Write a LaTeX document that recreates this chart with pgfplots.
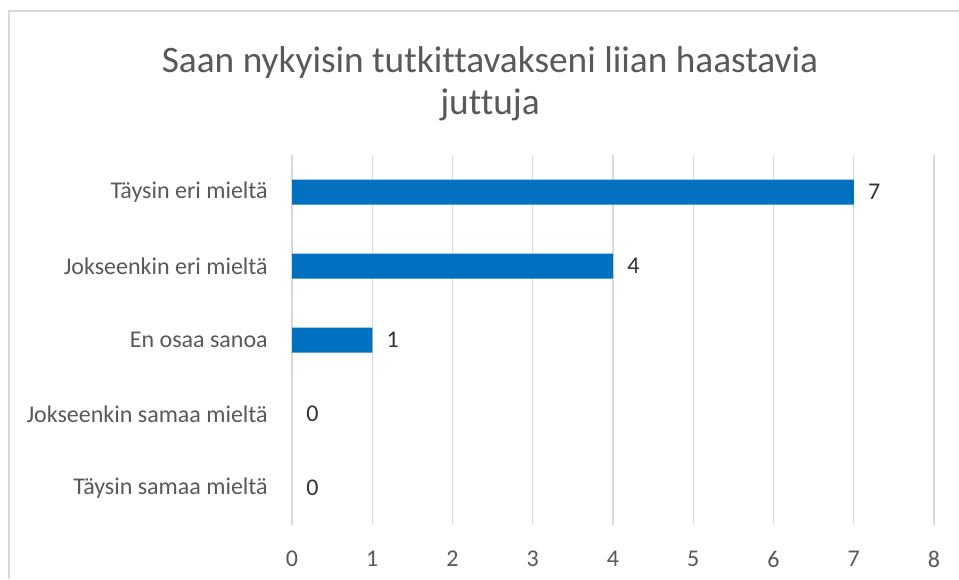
\documentclass[border=0pt]{standalone}
\usepackage{fontspec}
\setmainfont{Carlito}[Ligatures=NoCommon]
\usepackage{pgfplots}
\pgfplotsset{compat=1.18}
\definecolor{barblue}{HTML}{0070C0}
\definecolor{txt}{HTML}{595959}
\definecolor{gridc}{HTML}{D9D9D9}
\begin{document}
\begin{tikzpicture}
\useasboundingbox (0,0) rectangle (719.25pt,-434.25pt);
\fill[white] (0,0) rectangle (719.25pt,-434.25pt);
\draw[gridc, line width=1.6pt] (6.9pt,-434.25pt) -- (6.9pt,-8pt) -- (719.25pt,-8pt);
\node[anchor=base, color=txt, font=\fontsize{28}{33}\selectfont, inner sep=0pt] at (367.5pt,-54pt) {Saan nykyisin tutkittavakseni liian haastavia};
\node[anchor=base, color=txt, font=\fontsize{28}{33}\selectfont, inner sep=0pt] at (367.5pt,-86pt) {juttuja};
\begin{axis}[
  at={(219pt,-393.75pt)}, anchor=south west,
  scale only axis, width=481.5pt, height=277.5pt,
  xbar, xmin=0, xmax=8, ymin=-0.5, ymax=4.5, y dir=reverse,
  xtick={0,...,8}, ytick={0,...,4},
  yticklabels={Täysin eri mieltä, Jokseenkin eri mieltä, En osaa sanoa, Jokseenkin samaa mieltä, Täysin samaa mieltä},
  xmajorgrids, grid style={gridc, line width=1.1pt},
  axis line style={draw=none}, major tick length=0pt,
  tick label style={font=\fontsize{18}{21.6}\selectfont, color=txt},
  /pgf/number format/assume math mode=true,
  xticklabel style={inner sep=0pt, anchor=north, yshift=-19.5pt},
  yticklabel style={inner sep=0pt, anchor=east, xshift=-18pt},
  bar width=18.75pt, bar shift=0pt,
  nodes near coords,
  nodes near coords style={anchor=west, inner sep=0pt, xshift=10.5pt, font=\fontsize{18}{21.6}\selectfont, color=black!80},
  clip=false,
]
\addplot[fill=barblue, draw=none] coordinates {(7,0) (4,1) (1,2)};
\addplot[fill=none, draw=none] coordinates {(0,3) (0,4)};
\end{axis}
\end{tikzpicture}
\end{document}
